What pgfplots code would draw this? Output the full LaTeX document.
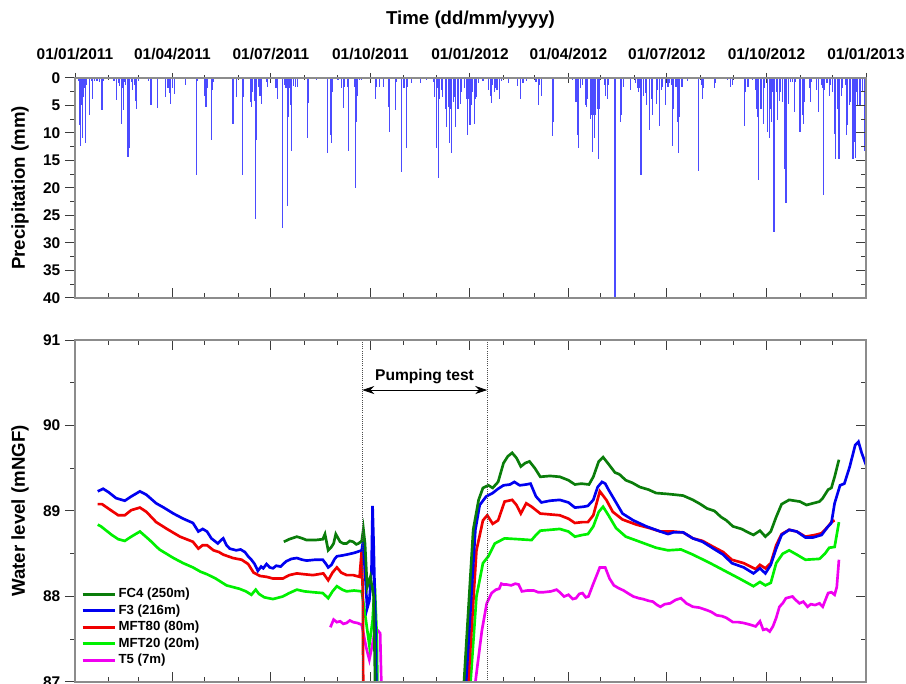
\documentclass[border=0pt]{standalone}
\usepackage{pgfplots}
\pgfplotsset{compat=1.18}
\usepackage{fontspec}
\setmainfont{Liberation Sans}
\usetikzlibrary{arrows.meta}

\definecolor{fcgreen}{RGB}{10,125,10}
\definecolor{fblue}{RGB}{0,0,240}
\definecolor{mred}{RGB}{240,0,0}
\definecolor{mgreen}{RGB}{0,240,0}
\definecolor{tmag}{RGB}{240,0,240}
\definecolor{rainblue}{RGB}{75,75,255}
\definecolor{spine}{RGB}{140,140,140}
\definecolor{tickc}{RGB}{60,60,60}

\pgfplotsset{
 base/.style={
  scale only axis, width=593.25pt, xmin=0, xmax=731,
  anchor=south west,
  axis line style={spine, line width=0.9pt},
  major tick length=7.5pt, minor tick length=3.75pt,
  every tick/.append style={tickc, line width=0.75pt},
  tick label style={font=\fontsize{11.6}{13}\selectfont\bfseries},
  label style={font=\fontsize{14}{16}\selectfont\bfseries},
  /pgf/number format/assume math mode=true,
 },
 dateticks/.style={
  xtick={0,90,181,273,365,456,547,639,731},
  minor xtick={31,59,120,151,212,243,304,334,396,425,486,517,578,609,670,700},
 },
 toppanel/.style={base, at={(56.25pt,289.5pt)}, height=165pt, y dir=reverse, ymin=0, ymax=40},
 botpanel/.style={base, at={(56.25pt,1.5pt)}, height=256.5pt, ymin=87, ymax=91},
}

\begin{document}
\begin{tikzpicture}
\useasboundingbox (0,0) rectangle (679.5pt,513pt);

% ---------------- top panel: data + top ticks with labels
\begin{axis}[toppanel, dateticks, ytick=\empty,
  tick align=center, xtick pos=right, xticklabel pos=right,
  xticklabels={01/01/2011,01/04/2011,01/07/2011,01/10/2011,01/01/2012,01/04/2012,01/07/2012,01/10/2012,01/01/2013},
  xticklabel style={yshift=6.5pt},
  xlabel={Time (dd/mm/yyyy)},
  xlabel style={at={(axis description cs:0.5,1)}, anchor=center, yshift=43.5pt},
]
\addplot[ycomb, rainblue, line width=0.85pt] table {
3 0.5
4 8.6
5 12.4
6 5
7 11
8 3.5
9 1.9
10 11.9
11 1.3
13 6.8
15 0.6
16 3.8
18 0.5
20 0.5
21 0.6
23 0.7
25 5.8
26 0.5
36 0.5
38 4
40 1
41 1.5
43 8.3
44 1.9
45 5.8
46 0.7
47 1.3
49 14.4
50 12.8
52 0.7
53 2.2
55 1.3
56 4.1
57 5.6
59 0.5
68 0.5
70 5
71 5
76 5.5
84 3.5
86 1.9
87 2.8
88 4.8
90 1.9
92 3
102 1.2
112 17.7
113 0.5
120 3.2
121 5.3
122 1.9
126 11.3
127 2.2
128 0.7
146 8.3
149 3.5
155 17.7
156 3.5
162 4.4
163 5.3
164 2.5
166 4.1
167 25.6
168 11.3
170 1.6
171 3.2
172 4.8
177 0.7
178 1.6
185 1.9
186 1.9
187 3.8
192 27.3
194 1.3
195 1.9
196 23.2
197 7.1
198 1.9
199 5
200 13.2
202 1.5
204 1.6
206 1.6
215 11
216 4.5
223 0.4
233 13.6
236 10.4
237 11.9
238 2.5
243 0.4
246 1.9
248 5.5
249 1.6
252 1.6
253 13.3
258 1.6
259 20
260 8
261 3.2
263 0.4
265 0.4
278 3.8
279 1.6
281 1.6
285 1.6
290 5.3
291 9.8
296 5.8
297 0.7
302 17.1
304 1.9
306 12.8
307 1.6
311 1.0
319 1.0
325 0.4
331 0.7
332 3.5
334 12.8
335 1.9
336 18.2
337 3.8
339 2.2
340 3.5
342 5.6
343 8.9
345 5.3
346 11.9
347 5.6
348 13.6
350 4.4
351 3.5
352 8.9
354 5.6
356 4.7
357 2.5
360 1.9
362 3.8
363 10.4
364 3.8
365 8.6
366 5
367 2.5
369 8.3
370 3.8
371 3.5
373 1
377 0.6
382 2.2
384 3.2
385 4.5
386 1.3
388 2.5
389 1.9
390 2.2
392 3.8
394 0.6
401 1
409 1.5
412 3.8
414 1
417 0.6
426 0.7
428 5
429 1.3
431 3.2
441 10.5
442 8
460 0.4
463 4.4
464 10.4
465 12.8
467 1.9
469 1.3
472 5
473 5.3
474 3.8
476 7.4
477 6.8
478 13.5
479 6.8
480 11
481 6.8
483 5.6
484 14.8
485 5.6
489 1.3
490 3.2
492 3.8
493 1.3
499 42
504 8
505 6.8
507 1.6
513 2.2
518 1
520 1.9
521 2.5
522 1.9
523 17.7
525 3.2
527 2.8
528 5
531 9.5
533 3.8
534 6.8
537 4.7
538 2.2
540 8.7
542 2.2
543 1.6
546 5
548 1.6
549 1
551 1.3
552 12.4
553 5.6
555 1.6
556 1.6
557 8
558 13.6
559 7.1
561 1.6
566 0.6
576 17
579 1.3
580 3.8
581 1.9
591 1.9
592 1
603 0.4
606 1.6
608 1.3
619 8.7
620 2.5
622 1.6
626 0.4
629 2.2
630 5.6
631 7.1
632 18.5
634 5.6
636 8.3
637 1.9
640 9.8
642 11
643 5.6
644 8
645 2.5
646 28
648 2.5
649 7.7
651 4.1
652 2.5
654 4.4
656 16.5
657 22.7
659 4.7
661 0.7
663 0.7
665 6.2
666 0.7
670 9.8
672 6.8
673 8.3
674 4.4
679 1.9
680 4.4
681 0.7
685 2.2
687 6.2
690 1.3
691 1.9
692 21.2
693 2.2
695 1
697 3.2
698 1.3
700 2.5
702 10.1
703 14.8
705 5.6
706 14.8
708 3.2
709 1.9
712 1.3
713 10.4
714 8.6
716 5
717 4.4
719 14.8
720 11.6
721 14.5
722 2.5
723 5
725 5
726 5
728 2.5
730 13.2
};
\end{axis}

% ---------------- top panel: left y ticks (outside) with labels
\begin{axis}[toppanel, xtick=\empty,
  ytick={0,5,...,40}, minor ytick={2.5,7.5,...,37.5},
  ytick pos=left, tick align=outside,
  ylabel={Precipitation (mm)},
  ylabel style={at={(axis description cs:0,0.5)}, anchor=center, yshift=41.25pt},
]
\end{axis}

% ---------------- top panel: inside ticks (bottom x, right y)
\begin{axis}[toppanel, dateticks,
  ytick={0,5,...,40}, minor ytick={2.5,7.5,...,37.5},
  xtick pos=left, ytick pos=right, tick align=inside,
  xticklabels={}, yticklabels={},
]
\end{axis}

% ---------------- bottom panel: data
\begin{axis}[botpanel, dateticks,
  ytick={87,88,89,90,91}, minor ytick={87.5,88.5,89.5,90.5},
  xtick pos=both, ytick pos=right, tick align=inside,
  xticklabels={}, yticklabels={},
  reverse legend,
  legend cell align=left,
  legend style={at={(axis description cs:0,0.29)}, xshift=1.5pt, anchor=north west, draw=none, fill=none,
    font=\fontsize{9.9}{12.6}\selectfont\bfseries, row sep=-0.3pt},
  legend image code/.code={\draw[#1, line width=2pt] (0pt,0pt) -- (24pt,0pt);},
]
\addplot[tmag, line width=2pt] table {
236 87.64
239 87.73
242 87.70
245 87.71
248 87.68
251 87.69
254 87.72
257 87.70
261 87.69
265 87.67
269 87.41
272 87.26
275 87.45
277 87.59
280 87.60
282 87.57
284 86.5
285 85
368 85
369 86.9
376 87.6
380.5 87.92
385 88.04
389 88.08
392 88.09
394 88.15
396 88.14
399 88.14
403 88.13
407 88.15
410 88.14
413 88.06
418 88.07
424 88.07
428 88.05
433 88.05
440 88.06
445 88.08
448 88.05
452 88.00
456 88.02
460 87.97
463 87.98
466 88.03
469 88.04
472 87.99
474.5 88.00
479 88.15
485 88.34
490 88.34
494 88.21
498 88.13
502 88.10
507 88.07
512 88.03
516 88.00
521 87.98
525 87.97
530 87.95
534 87.94
538 87.90
541 87.88
545 87.91
550 87.92
555 87.96
560 87.98
565 87.92
571 87.88
577 87.87
584 87.84
588 87.82
593 87.78
598 87.77
602 87.75
608 87.70
613 87.70
618 87.69
624 87.67
629 87.65
633 87.71
636 87.61
639 87.62
642 87.59
645 87.65
648 87.75
651 87.88
654 87.92
657 87.98
660 87.99
663 88.00
666 87.96
669.5 87.92
673 87.94
677 87.88
680 87.91
684 87.90
688 87.92
691 87.88
696 88.04
699 88.05
702 88.02
704 88.11
706 88.43
};
\addlegendentry{T5 (7m)}
\addplot[mgreen, line width=2pt] table {
21 88.84
24 88.82
34 88.72
40 88.67
46 88.65
52 88.70
60 88.76
69 88.66
78 88.55
91 88.45
100 88.39
109 88.34
116 88.29
122 88.26
130 88.21
140 88.13
146 88.11
152 88.09
158 88.06
163 88.02
167 88.08
170 88.03
175 87.99
183 87.97
192 88.00
198 88.04
205 88.08
212 88.06
220 88.05
229 88.04
234 87.98
238 88.06
242 88.12
247 88.08
251 88.06
258 88.07
265 88.06
268 87.80
272 87.43
275 87.72
277 88.15
279 87.5
281 85
364 85
365 86.9
371 88.0
377 88.39
382 88.47
388 88.62
397 88.68
410 88.67
422 88.66
426 88.72
430 88.77
439 88.78
448 88.79
456 88.76
462 88.70
469 88.72
474 88.73
479 88.82
484 88.99
488 89.05
493 88.95
500 88.80
509 88.70
522 88.64
537 88.57
548 88.54
560 88.55
571 88.49
587 88.39
602 88.29
614 88.21
627 88.12
633 88.17
638 88.13
643 88.16
648 88.39
654 88.50
660 88.54
667 88.49
675 88.43
688 88.44
693 88.50
697 88.57
702 88.58
706 88.87
};
\addlegendentry{MFT20 (20m)}
\addplot[mred, line width=2pt] table {
21 89.08
25 89.08
33 89.01
40 88.95
46 88.95
52 89.01
60 89.04
66 88.99
75 88.87
85 88.79
97 88.70
105 88.66
109 88.64
114 88.56
118 88.60
122 88.60
128 88.54
133 88.52
137 88.49
146 88.45
154 88.43
160 88.38
165 88.28
171 88.24
177 88.23
183 88.21
192 88.21
198 88.25
205 88.27
212 88.26
220 88.25
229.5 88.27
234 88.19
238 88.28
242 88.34
246 88.28
251 88.25
257 88.25
263 88.23
265 88.54
266 88.0
267 85
362 85
363 86.9
371 88.54
377 88.89
381 88.95
386 88.85
391 88.89
397 89.11
404 89.13
408 89.07
412 88.97
417 89.09
422 89.05
430 88.97
439 88.96
448 88.95
456 88.91
462 88.86
469 88.87
474 88.87
479 88.95
485 89.23
491 89.13
497 88.99
506 88.90
519 88.84
531 88.80
541 88.76
553 88.76
562 88.75
571 88.68
580 88.65
590 88.58
599 88.52
607 88.43
618 88.39
629 88.32
633 88.37
638 88.33
643 88.39
648 88.60
653 88.73
660 88.78
667 88.76
675 88.70
684 88.72
690 88.74
696 88.82
699 88.87
702 88.89
};
\addlegendentry{MFT80 (80m)}
\addplot[fblue, line width=2pt] table {
21 89.23
26 89.26
31 89.22
38 89.15
46 89.12
52 89.17
60 89.23
66 89.19
75 89.09
82 89.04
91 88.97
100 88.91
109 88.86
112 88.80
114 88.76
118 88.79
122 88.76
126 88.68
130 88.64
132 88.62
135 88.66
137 88.68
140 88.60
143 88.56
149 88.54
153 88.55
157 88.52
160 88.47
163 88.43
166 88.38
169 88.30
172 88.35
174 88.33
177 88.38
180 88.34
183 88.33
186 88.36
190 88.35
195 88.41
200 88.44
205 88.45
210 88.43
214 88.42
222 88.43
229 88.43
232 88.38
234 88.34
237 88.37
240 88.44
242 88.47
247 88.48
251 88.49
258 88.51
265 88.54
266 88.63
268 88.30
270 87.86
272 87.95
274 88.30
275 89.06
276 88.60
278 87.50
280 85
360 85
361 86.9
370 88.78
374 89.07
380 89.17
386 89.21
391 89.26
396 89.30
402 89.31
406 89.34
411 89.30
417 89.31
421 89.32
426 89.17
431 89.10
439 89.12
448 89.13
456 89.10
462 89.04
470 89.05
474 89.06
479 89.13
483 89.28
487 89.34
490 89.32
493 89.25
500 89.10
506 88.97
516 88.89
528 88.82
541 88.76
548 88.73
553 88.75
562 88.75
571 88.68
580 88.64
590 88.56
599 88.49
607 88.39
618 88.34
627 88.27
633 88.33
638 88.27
643 88.37
648 88.56
653 88.72
660 88.78
667 88.76
675 88.69
682 88.69
690 88.72
696 88.82
699 88.86
702 89.09
707 89.30
711 89.32
716 89.52
721 89.77
724 89.81
727 89.68
731 89.54
};
\addlegendentry{F3 (216m)}
\addplot[fcgreen, line width=2pt] table {
193 88.64
198 88.67
205 88.70
210 88.68
214 88.66
222 88.66
229 88.67
231 88.73
234 88.54
237 88.58
239 88.62
241 88.73
245 88.64
248 88.62
251 88.62
254 88.65
257 88.64
260 88.61
262 88.62
265 88.65
266.5 88.79
268 88.62
270 88.11
273 88.23
276 88.0
278 86.5
280 85
357 85
359 86.9
368 88.78
373 89.13
377 89.27
382 89.30
386 89.27
391 89.34
396 89.56
400 89.64
404 89.68
408 89.62
412 89.52
416 89.56
420 89.58
425 89.50
430 89.40
439 89.41
448 89.40
456 89.36
462 89.31
468 89.32
475 89.31
479 89.40
484 89.58
488 89.63
493 89.55
499 89.45
503 89.43
509 89.36
515 89.33
522 89.28
530 89.25
537 89.21
547 89.20
555 89.19
562 89.18
571 89.13
578 89.08
584 89.03
591 89.00
597 88.93
602 88.89
608 88.82
616 88.79
622 88.75
627 88.72
633 88.77
638 88.70
643 88.76
648 88.93
653 89.08
660 89.13
665 89.12
670 89.11
676 89.07
682 89.09
688 89.11
691 89.15
696 89.25
699 89.27
702 89.40
706 89.60
};
\addlegendentry{FC4 (250m)}
\draw[densely dotted, black!70, line width=0.6pt] (axis cs:265.5,87) -- (axis cs:265.5,91);
\draw[densely dotted, black!70, line width=0.6pt] (axis cs:381,87) -- (axis cs:381,91);
\draw[{Stealth[length=9pt,width=6pt]}-{Stealth[length=9pt,width=6pt]}, line width=0.6pt]
  (axis cs:265.5,90.415) -- (axis cs:381,90.415);
\node[font=\fontsize{11.7}{13}\selectfont\bfseries] at (axis cs:323,90.57) {Pumping test};
\end{axis}

% ---------------- bottom panel: left y ticks (outside) with labels
\begin{axis}[botpanel, xtick=\empty,
  ytick={87,88,89,90,91}, minor ytick={87.5,88.5,89.5,90.5},
  ytick pos=left, tick align=outside,
  ylabel={Water level (mNGF)},
  ylabel style={at={(axis description cs:0,0.5)}, anchor=center, yshift=41.25pt},
]
\end{axis}
\end{tikzpicture}
\end{document}
